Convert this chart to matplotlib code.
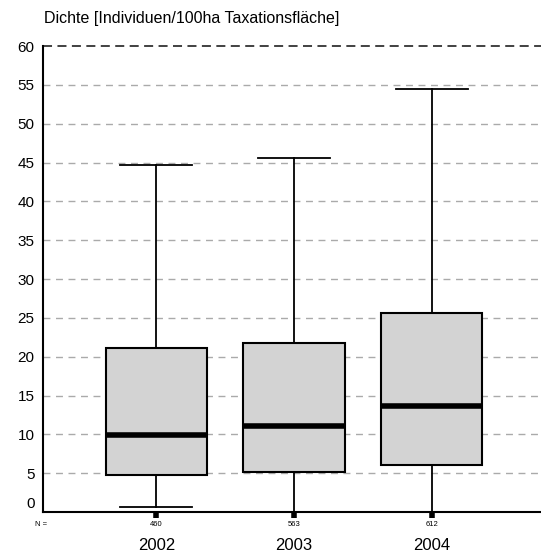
import numpy as np
import matplotlib
matplotlib.use('Agg')
import matplotlib.pyplot as plt
import matplotlib.transforms as mtransforms

plt.rcParams['font.family'] = ['Liberation Sans', 'DejaVu Sans']

years = ['2002', '2003', '2004']
counts = [460, 563, 612]
whisk_lo = [0.6, 0.0, 0.0]
q1 = [4.7, 5.2, 6.0]
medians = [9.9, 11.1, 13.7]
q3 = [21.15, 21.75, 25.6]
whisk_hi = [44.7, 45.6, 54.4]

stats = []
for i, y in enumerate(years):
    stats.append({'label': y, 'whislo': whisk_lo[i], 'q1': q1[i], 'med': medians[i],
                  'q3': q3[i], 'whishi': whisk_hi[i]})

fig = plt.figure(figsize=(5.41, 5.54), dpi=100)
ax = fig.add_axes([43 / 541, 1 - 512 / 554, 1 - 43 / 541, (512 - 46) / 554])

pos = [1, 2, 3]
ax.bxp(stats, positions=pos, widths=0.735, patch_artist=True, showfliers=False,
       boxprops=dict(facecolor='#d3d3d3', edgecolor='black', linewidth=1.5),
       medianprops=dict(color='black', linewidth=4),
       whiskerprops=dict(color='black', linewidth=1.3),
       capprops=dict(color='black', linewidth=1.3),
       capwidths=0.523, zorder=3)

ax.set_xlim(0.176, 3.795)
ax.set_ylim(0, 60)

# dashed reference lines every 5 units, top one darker
for v in range(5, 60, 5):
    ax.axhline(v, color='#aaaaaa', linestyle=(0, (5, 4)), linewidth=1, zorder=1)
ax.axhline(60, color='#333333', linestyle=(0, (5, 3)), linewidth=1.3, zorder=1, clip_on=False)

for s in ['top', 'right']:
    ax.spines[s].set_visible(False)
ax.spines['left'].set_linewidth(1.5)
ax.spines['bottom'].set_linewidth(1.5)

ax.set_yticks(range(0, 61, 5))
ax.set_yticklabels([str(v) for v in range(0, 61, 5)], fontsize=11)
ax.tick_params(axis='y', length=0, pad=6)
# lift the zero label off the axis line
offset = mtransforms.ScaledTranslation(0, 9 / 100, fig.dpi_scale_trans)
ylabs = ax.get_yticklabels()
ylabs[0].set_transform(ylabs[0].get_transform() + offset)

ax.set_xticks(pos)
ax.set_xticklabels([])
ax.tick_params(axis='x', length=4, width=4, direction='out', color='black')

trans = mtransforms.blended_transform_factory(ax.transData, fig.transFigure)
for p, n, y in zip(pos, counts, years):
    ax.text(p, 1 - 524 / 554, str(n), transform=trans, ha='center', va='center', fontsize=5.5)
    ax.text(p, 1 - 545 / 554, y, transform=trans, ha='center', va='center', fontsize=12)
fig.text(41 / 541, 1 - 524 / 554, 'N =', ha='center', va='center', fontsize=5.5)

fig.text(44 / 541, 1 - 18 / 554, 'Dichte [Individuen/100ha Taxationsfläche]',
         ha='left', va='center', fontsize=11.5)

fig.savefig('out.png', dpi=100)
